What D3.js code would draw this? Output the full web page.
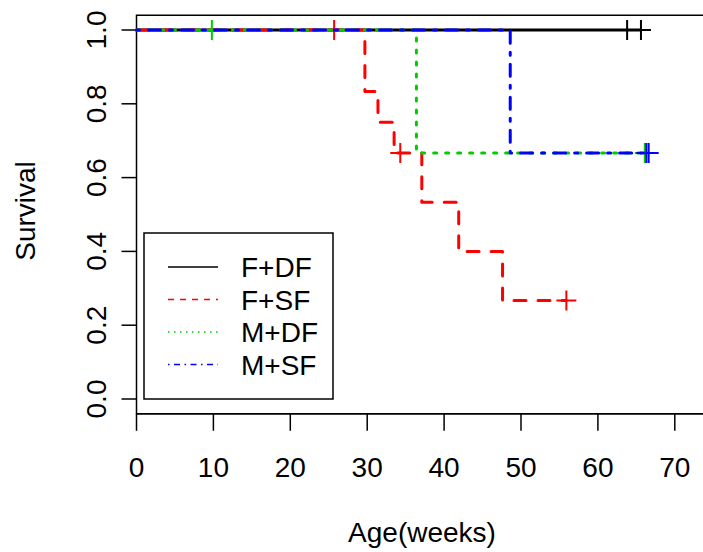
<!DOCTYPE html>
<html><head><meta charset="utf-8">
<script src="https://cdn.jsdelivr.net/npm/d3@7"></script>
<style>body{margin:0;background:#fff}svg{display:block}text{font-family:"Liberation Sans",Arial,sans-serif;fill:#000}</style>
</head><body><svg id="c" width="703" height="552"></svg>
<script>
// ---- data ----
const groups = ["F+DF", "F+SF", "M+DF", "M+SF"];
const colors = ["#000000", "#ff0000", "#00cd00", "#0000ff"];
// event (drop) times and survival after each drop
const fdfTimes = [];            const fdfSurv = [];
const fsfTimes = [29.7, 31.4, 33.5, 37.1, 41.9, 47.6];
const fsfSurv  = [0.833, 0.75, 0.667, 0.533, 0.4, 0.267];
const mdfTimes = [36.4];        const mdfSurv = [0.667];
const msfTimes = [48.6];        const msfSurv = [0.667];
// censoring times
const fdfCens = [63.8, 65.6];
const fsfCens = [25.7, 34.3, 55.9];
const mdfCens = [9.8, 66.1];
const msfCens = [66.3, 66.6];
const xTicks = [0, 10, 20, 30, 40, 50, 60, 70];
const yTicks = [0.0, 0.2, 0.4, 0.6, 0.8, 1.0];

const times = [fdfTimes, fsfTimes, mdfTimes, msfTimes];
const survs = [fdfSurv, fsfSurv, mdfSurv, msfSurv];
const cens = [fdfCens, fsfCens, mdfCens, msfCens];

const plotDash = [null, "12,12", "3,9", "3,9,12,9"];
const legDash = [null, "6,6", "1.5,4.5", "1.5,4.5,6,4.5"];
const FS = 28;

// ---- layout ----
const svg = d3.select("#c");
const x = d3.scaleLinear().domain([0, 70]).range([136.5, 674.8]);
const y = d3.scaleLinear().domain([0, 1]).range([399, 30]);
const boxL = 136.5, boxT = 15.2, boxB = 413.8, boxR = 720;

// box (top, left)
svg.append("path").attr("d", `M${boxR},${boxT}H${boxL}V${boxB}H${boxR}`)
  .attr("fill", "none").attr("stroke", "#000").attr("stroke-width", 1.5);

// y axis
yTicks.forEach(v => {
  svg.append("line").attr("x1", boxL - 15).attr("x2", boxL).attr("y1", y(v)).attr("y2", y(v))
    .attr("stroke", "#000").attr("stroke-width", 1.5);
  svg.append("text").attr("transform", `translate(${boxL - 30.5},${y(v)}) rotate(-90)`)
    .attr("text-anchor", "middle").attr("font-size", FS).text(d3.format(".1f")(v));
});
// x axis
svg.append("line").attr("x1", x(0)).attr("x2", boxR).attr("y1", boxB).attr("y2", boxB)
  .attr("stroke", "#000").attr("stroke-width", 1.5);
xTicks.forEach(v => {
  svg.append("line").attr("x1", x(v)).attr("x2", x(v)).attr("y1", boxB).attr("y2", boxB + 17)
    .attr("stroke", "#000").attr("stroke-width", 1.5);
  svg.append("text").attr("x", x(v)).attr("y", 477).attr("text-anchor", "middle")
    .attr("font-size", FS).text(v);
});
svg.append("text").attr("x", 422).attr("y", 542).attr("text-anchor", "middle")
  .attr("font-size", FS).text("Age(weeks)");
svg.append("text").attr("transform", "translate(35,211) rotate(-90)")
  .attr("text-anchor", "middle").attr("font-size", FS).text("Survival");

// curves
groups.forEach((g, i) => {
  const lastT = d3.max([...times[i], ...cens[i]]);
  const pts = [[0, 1]];
  let s = 1;
  times[i].forEach((t, k) => { pts.push([t, s]); s = survs[i][k]; pts.push([t, s]); });
  pts.push([lastT, s]);
  const line = d3.line().x(d => x(d[0])).y(d => y(d[1]));
  svg.append("path").attr("d", line(pts)).attr("fill", "none")
    .attr("stroke", colors[i]).attr("stroke-width", 3)
    .attr("stroke-linecap", "round").attr("stroke-linejoin", "round")
    .attr("stroke-dasharray", plotDash[i]);
  // censor marks
  cens[i].forEach(t => {
    let sv = 1;
    times[i].forEach((tt, k) => { if (tt <= t) sv = survs[i][k]; });
    const cx = x(t), cy = y(sv);
    svg.append("path").attr("d", `M${cx - 10},${cy}H${cx + 10}M${cx},${cy - 10}V${cy + 10}`)
      .attr("stroke", colors[i]).attr("stroke-width", 2).attr("fill", "none");
  });
});

// legend
svg.append("rect").attr("x", 144).attr("y", 233).attr("width", 189).attr("height", 166)
  .attr("fill", "#fff").attr("stroke", "#000").attr("stroke-width", 1.5);
const legY = [267, 299.5, 332, 364.5];
groups.forEach((g, i) => {
  svg.append("line").attr("x1", 168).attr("x2", 218).attr("y1", legY[i]).attr("y2", legY[i])
    .attr("stroke", colors[i]).attr("stroke-width", 1.5).attr("stroke-dasharray", legDash[i]);
  svg.append("text").attr("x", 241).attr("y", legY[i] + 10).attr("font-size", FS).text(g);
});
</script></body></html>
